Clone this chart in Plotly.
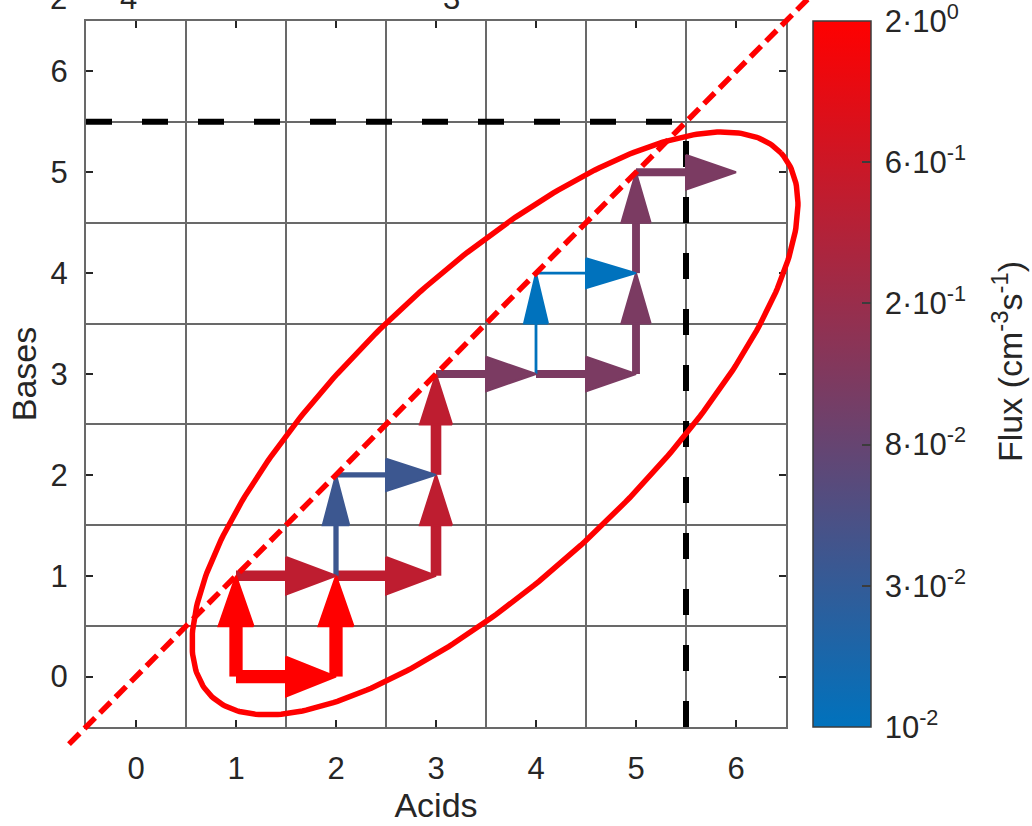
import numpy as np
import plotly.graph_objects as go

# ---- axes ----
x_range = [-0.5, 6.5]
y_range = [-0.5, 6.5]
x_ticks = [0, 1, 2, 3, 4, 5, 6]
y_ticks = [0, 1, 2, 3, 4, 5, 6]

# ---- reaction network: (acids, bases) -> (acids, bases), flux in cm^-3 s^-1 ----
src_acids = [1, 1, 2, 1, 2, 3, 3, 2, 2, 3, 4, 5, 5, 5, 4, 4]
src_bases = [0, 0, 0, 1, 1, 1, 2, 1, 2, 3, 3, 3, 4, 5, 3, 4]
dst_acids = [1, 2, 2, 2, 3, 3, 3, 2, 3, 4, 5, 5, 5, 6, 4, 5]
dst_bases = [1, 0, 1, 1, 1, 2, 3, 2, 2, 3, 3, 4, 5, 5, 4, 4]
flux = [2.0, 2.0, 2.0, 0.52, 0.52, 0.52, 0.52, 0.035, 0.035,
        0.13, 0.13, 0.13, 0.13, 0.13, 0.01, 0.01]

# ---- colour bar ----
flux_min, flux_max = 0.01, 2.0
cbar_ticktext = ["10<sup>-2</sup>", "3·10<sup>-2</sup>", "8·10<sup>-2</sup>",
                 "2·10<sup>-1</sup>", "6·10<sup>-1</sup>", "2·10<sup>0</sup>"]

# ---- limits and stability region ----
acid_limit = 5.5
base_limit = 5.5
diag_start, diag_end = -0.67, 7.0
ell_center = (3.59, 2.51)
ell_axes = (3.92, 1.47)
ell_angle = 43.2

# ---- figure geometry (pixels) ----
W, H = 1032, 826
left_px, right_px, top_px, bottom_px = 86, 786, 21, 727
ppx = (right_px - left_px) / (x_range[1] - x_range[0])
ppy = (bottom_px - top_px) / (y_range[1] - y_range[0])

c_low = np.array([0, 114, 189])
c_high = np.array([255, 0, 0])
lf_min, lf_max = np.log10(flux_min), np.log10(flux_max)
TXT = "rgb(38,38,38)"
FONT = "Liberation Sans, Arial, sans-serif"
GRID = "rgb(105,105,105)"
TICK_SIZE = 31
LABEL_SIZE = 34


def frac(f):
    return (np.log10(f) - lf_min) / (lf_max - lf_min)


def color(f):
    t = frac(f)
    c = c_low + t * (c_high - c_low)
    return "rgb(%d,%d,%d)" % tuple(np.round(c).astype(int))


fig = go.Figure()

# dashed limit lines
dash_black = dict(color="black", width=6, dash="26px,30px")
fig.add_trace(go.Scatter(x=[x_range[0], acid_limit], y=[base_limit, base_limit],
                         mode="lines", line=dash_black, hoverinfo="skip", showlegend=False))
fig.add_trace(go.Scatter(x=[acid_limit, acid_limit], y=[y_range[0], base_limit],
                         mode="lines", line=dash_black, hoverinfo="skip", showlegend=False))

head_len = 0.5
shafts, heads = [], []
for xa, ya, xb, yb, f in zip(src_acids, src_bases, dst_acids, dst_bases, flux):
    t = frac(f)
    col = color(f)
    lw = 2.8 + 10.5 * t
    dx, dy = xb - xa, yb - ya
    L = np.hypot(dx, dy)
    ux, uy = dx / L, dy / L
    bx, by = xb - head_len * ux, yb - head_len * uy
    if dx != 0:  # horizontal arrow: head spreads in y
        hw = (15 + 5 * t) / ppy
        px_, py_ = 0.0, hw
    else:        # vertical arrow: head spreads in x
        hw = (12 + 5.5 * t) / ppx
        px_, py_ = hw, 0.0
    shafts.append(go.Scatter(x=[xa, bx + 0.05 * ux], y=[ya, by + 0.05 * uy], mode="lines",
                             line=dict(color=col, width=lw), hoverinfo="skip",
                             showlegend=False))
    heads.append(go.Scatter(x=[bx + px_, xb, bx - px_, bx + px_],
                            y=[by + py_, yb, by - py_, by + py_],
                            mode="lines", fill="toself", fillcolor=col,
                            line=dict(color=col, width=2), hoverinfo="skip",
                            showlegend=False))
for tr in shafts + heads:
    fig.add_trace(tr)

# colour bar carrier
fig.add_trace(go.Scatter(
    x=[x_range[0] - 5, x_range[0] - 5], y=[0, 0], mode="markers",
    marker=dict(color=[lf_min, lf_max], cmin=lf_min, cmax=lf_max, opacity=0, size=1,
                colorscale=[[0, "rgb(0,114,189)"], [1, "rgb(255,0,0)"]],
                showscale=True,
                colorbar=dict(
                    x=813 / W, xanchor="left", xpad=0, ypad=0,
                    y=1 - (top_px + bottom_px) / 2 / H, yanchor="middle",
                    len=bottom_px - top_px, lenmode="pixels",
                    thickness=58, thicknessmode="pixels",
                    outlinecolor="rgb(60,60,60)", outlinewidth=1.5,
                    tickmode="array",
                    tickvals=list(np.linspace(lf_min, lf_max, 6) * [1, 1, 1, 1, 1, 0.9999]),
                    ticktext=["\u2009" + s for s in cbar_ticktext],
                    ticklabeloverflow="allow",
                    ticks="inside", ticklen=9, tickwidth=1.5, tickcolor="rgb(60,60,60)",
                    tickfont=dict(family=FONT, size=TICK_SIZE, color=TXT),
                )),
    hoverinfo="skip", showlegend=False))

# overlay axes covering the whole page with the same scale (unclipped curves)
x2_min = x_range[0] - left_px / ppx
y2_min = y_range[0] - (H - bottom_px) / ppy
x2_range = [x2_min, x2_min + W / ppx]
y2_range = [y2_min, y2_min + H / ppy]

fig.add_trace(go.Scatter(x=[diag_start, diag_end], y=[diag_start, diag_end],
                         xaxis="x2", yaxis="y2", mode="lines",
                         line=dict(color="rgb(255,0,0)", width=5.5, dash="15px,7px"),
                         hoverinfo="skip", showlegend=False))

th = np.linspace(0, 2 * np.pi, 400)
a, b = ell_axes
ang = np.deg2rad(ell_angle)
ex = ell_center[0] + a * np.cos(th) * np.cos(ang) - b * np.sin(th) * np.sin(ang)
ey = ell_center[1] + a * np.cos(th) * np.sin(ang) + b * np.sin(th) * np.cos(ang)
fig.add_trace(go.Scatter(x=ex, y=ey, xaxis="x2", yaxis="y2", mode="lines",
                         line=dict(color="rgb(255,0,0)", width=5.5),
                         hoverinfo="skip", showlegend=False))

axis_common = dict(
    showline=True, linecolor=GRID, linewidth=2, mirror="ticks",
    ticks="inside", ticklen=7, tickwidth=1.5, tickcolor=TXT,
    showgrid=False, zeroline=False,
    tickfont=dict(family=FONT, size=TICK_SIZE, color=TXT),
    minor=dict(tick0=0.5, dtick=1, showgrid=True, gridcolor=GRID, gridwidth=2, ticks=""),
    automargin=False,
)

fig.update_layout(
    width=W, height=H,
    margin=dict(l=0, r=0, t=0, b=0),
    paper_bgcolor="white", plot_bgcolor="rgba(0,0,0,0)",
    xaxis=dict(range=x_range, tickmode="array", tickvals=x_ticks,
               domain=[left_px / W, right_px / W], anchor="y",
               ticklabelstandoff=13,
               title=dict(text="Acids", standoff=1,
                          font=dict(family=FONT, size=LABEL_SIZE, color=TXT)),
               **axis_common),
    yaxis=dict(range=y_range, tickmode="array", tickvals=y_ticks,
               domain=[1 - bottom_px / H, 1 - top_px / H], anchor="x",
               ticklabelstandoff=10,
               title=dict(text="Bases", standoff=4,
                          font=dict(family=FONT, size=LABEL_SIZE, color=TXT)),
               **axis_common),
    xaxis2=dict(range=x2_range, domain=[0, 1], anchor="y2", visible=False),
    yaxis2=dict(range=y2_range, domain=[0, 1], anchor="x2", visible=False),
)

# colour bar title
fig.add_annotation(text="Flux (cm<sup>-3</sup>s<sup>-1</sup>)", textangle=-90,
                   x=1007 / W, y=1 - 362 / H, xref="paper", yref="paper",
                   xanchor="center", yanchor="middle", showarrow=False,
                   font=dict(family=FONT, size=34, color=TXT))

# partial labels at the top edge
for txt, xp in [("2", 58), ("4", 128), ("3", 451)]:
    fig.add_annotation(text=txt, x=xp / W, y=1 - 18 / H, xref="paper", yref="paper",
                       xanchor="center", yanchor="bottom", showarrow=False,
                       font=dict(family=FONT, size=TICK_SIZE, color=TXT))

fig.write_html("out.html")
